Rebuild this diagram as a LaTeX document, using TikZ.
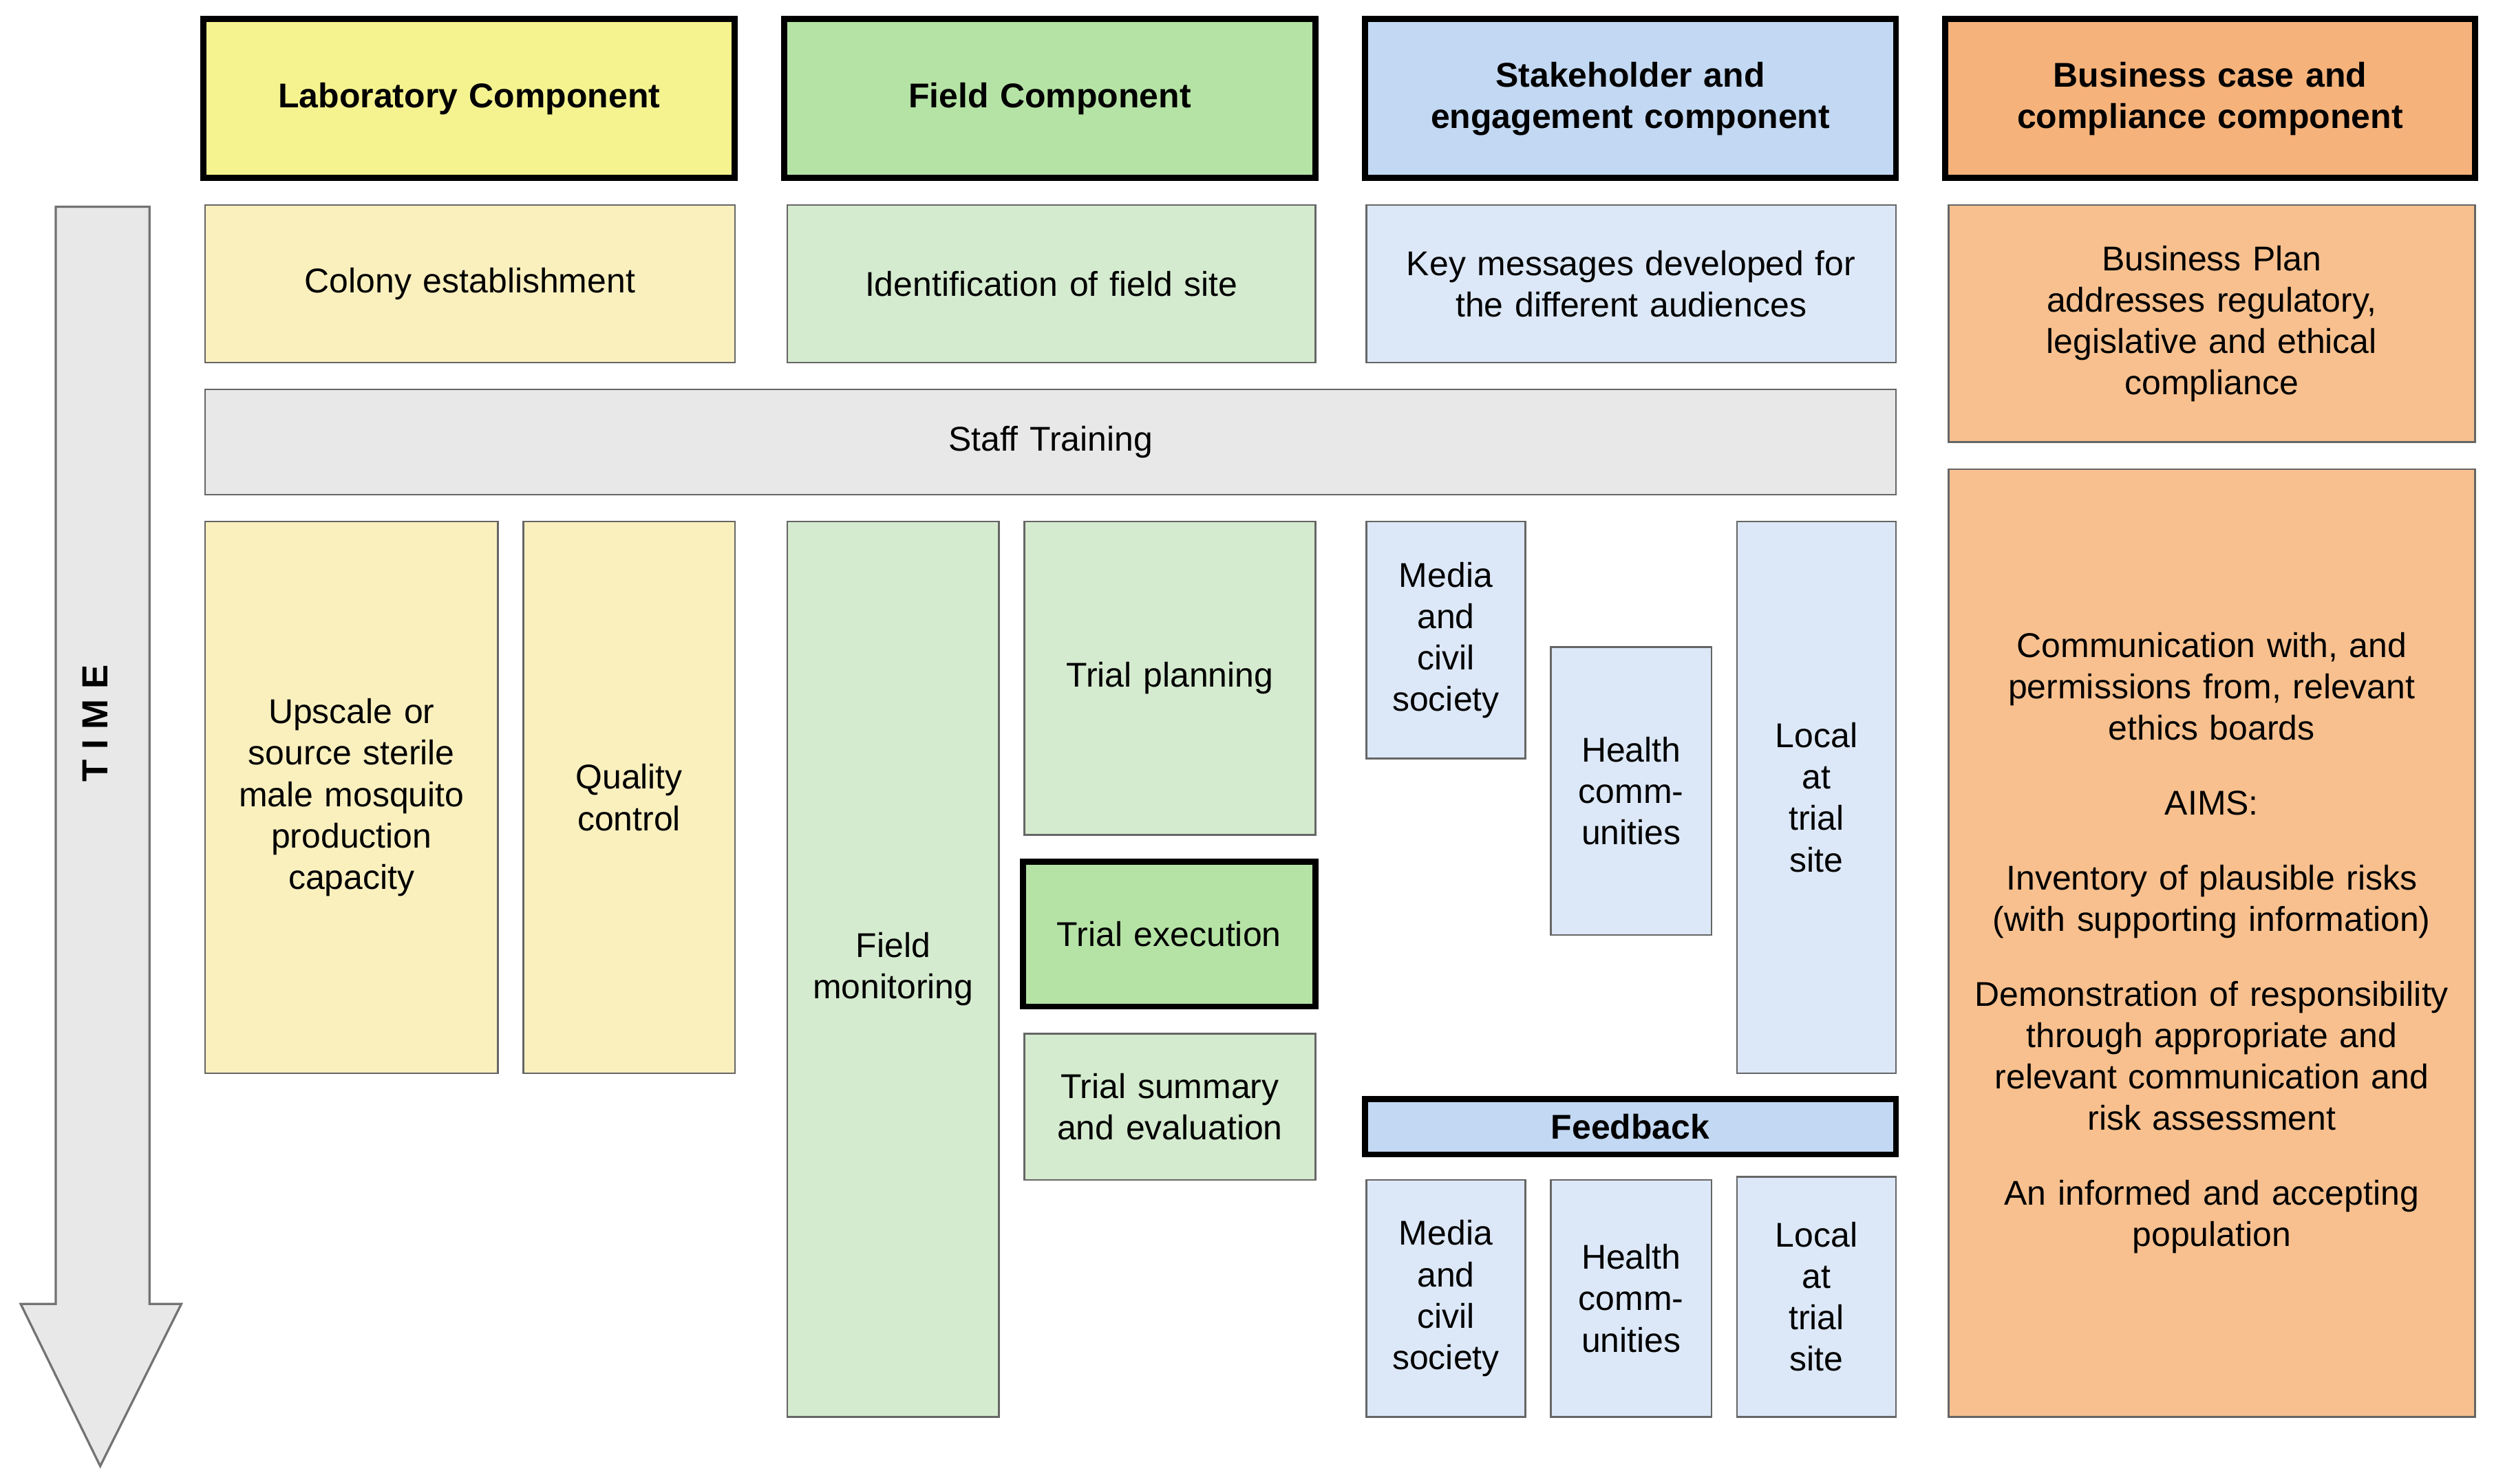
\documentclass[tikz,border=0pt]{standalone}
\usepackage{fontspec}
\setmainfont{Liberation Sans}
\begin{document}
\begin{tikzpicture}[x=0.02cm,y=-0.02cm,
  base/.style={draw=black!60,line width=0.6pt,inner xsep=3pt,inner ysep=0pt,align=center,font=\fontsize{12.3}{14.8}\selectfont},
  hdr/.style={base,draw=black,line width=2.2pt,font=\bfseries\fontsize{12.3}{14.8}\selectfont},
  labH/.style={hdr,fill=yellowH}, labL/.style={base,fill=yellowL},
  fldH/.style={hdr,fill=greenH}, fldL/.style={base,fill=greenL},
  stkH/.style={hdr,fill=blueH}, stkL/.style={base,fill=blueL},
  busH/.style={hdr,fill=orangeH}, busL/.style={base,fill=orangeL},
  gry/.style={base,fill=grayL}]
\definecolor{yellowH}{HTML}{F5F38F}\definecolor{yellowL}{HTML}{FAF0BE}
\definecolor{greenH}{HTML}{B5E3A5}\definecolor{greenL}{HTML}{D5EBCF}
\definecolor{blueH}{HTML}{C3D8F2}\definecolor{blueL}{HTML}{DCE8F7}
\definecolor{orangeH}{HTML}{F5B27A}\definecolor{orangeL}{HTML}{F7C08E}
\definecolor{grayL}{HTML}{E8E8E8}
\newcommand\bx[7]{\node[#2, minimum width={(#5-#3)*0.02cm}, minimum height={(#6-#4)*0.02cm}, text width={(#5-#3)*0.02cm-6pt}] (#1) at ({(#3+#5)/2},{(#4+#6)/2}) {#7};}
\useasboundingbox (0,0) rectangle (1568,933);
% time arrow
\draw[fill=grayL,draw=black!55,line width=0.8pt] (35,130) -- (94,130) -- (94,820) -- (114,820) -- (63,922) -- (13,820) -- (35,820) -- cycle;
\node[rotate=90,font=\bfseries\fontsize{13}{15}\selectfont] (time) at (60,455) {T I M E};
% headers
\bx{hl}{labH}{128}{12}{462}{112}{Laboratory Component}
\bx{hf}{fldH}{493}{12}{827}{112}{Field Component}
\bx{hs}{stkH}{858}{12}{1192}{112}{Stakeholder and\\engagement component}
\bx{hb}{busH}{1223}{12}{1556}{112}{Business case and\\compliance component}
% row 1
\bx{col}{labL}{129}{129}{462}{228}{Colony establishment}
\bx{ide}{fldL}{495}{129}{827}{228}{Identification of field site}
\bx{key}{stkL}{859}{129}{1192}{228}{Key messages developed for\\the different audiences}
\bx{bp}{busL}{1225}{129}{1556}{278}{Business Plan\\addresses regulatory,\\legislative and ethical\\compliance}
\bx{st}{gry}{129}{245}{1192}{311}{Staff Training}
% lab
\bx{up}{labL}{129}{328}{313}{675}{Upscale or\\source sterile\\male mosquito\\production\\capacity}
\bx{qc}{labL}{329}{328}{462}{675}{Quality\\control}
% field
\bx{fm}{fldL}{495}{328}{628}{891}{Field\\monitoring}
\bx{tp}{fldL}{644}{328}{827}{525}{Trial planning}
\bx{te}{fldL,fill=greenH,draw=black,line width=2.2pt}{643}{542}{827}{633}{Trial execution}
\bx{ts}{fldL}{644}{650}{827}{742}{Trial summary\\and evaluation}
% stakeholder
\bx{m1}{stkL}{859}{328}{959}{477}{Media\\and\\civil\\society}
\bx{h1}{stkL}{975}{407}{1076}{588}{Health\\comm-\\unities}
\bx{l1}{stkL}{1092}{328}{1192}{675}{Local\\at\\trial\\site}
\bx{fb}{stkH}{858}{691}{1192}{726}{Feedback}
\bx{m2}{stkL}{859}{742}{959}{891}{Media\\and\\civil\\society}
\bx{h2}{stkL}{975}{742}{1076}{891}{Health\\comm-\\unities}
\bx{l2}{stkL}{1092}{740}{1192}{891}{Local\\at\\trial\\site}
% business
\bx{com}{busL}{1225}{295}{1556}{891}{Communication with, and\\permissions from, relevant\\ethics boards\\[12pt]AIMS:\\[12pt]Inventory of plausible risks\\(with supporting information)\\[12pt]Demonstration of responsibility\\through appropriate and\\relevant communication and\\risk assessment\\[12pt]An informed and accepting\\population\\[30pt]}
\end{tikzpicture}
\end{document}
